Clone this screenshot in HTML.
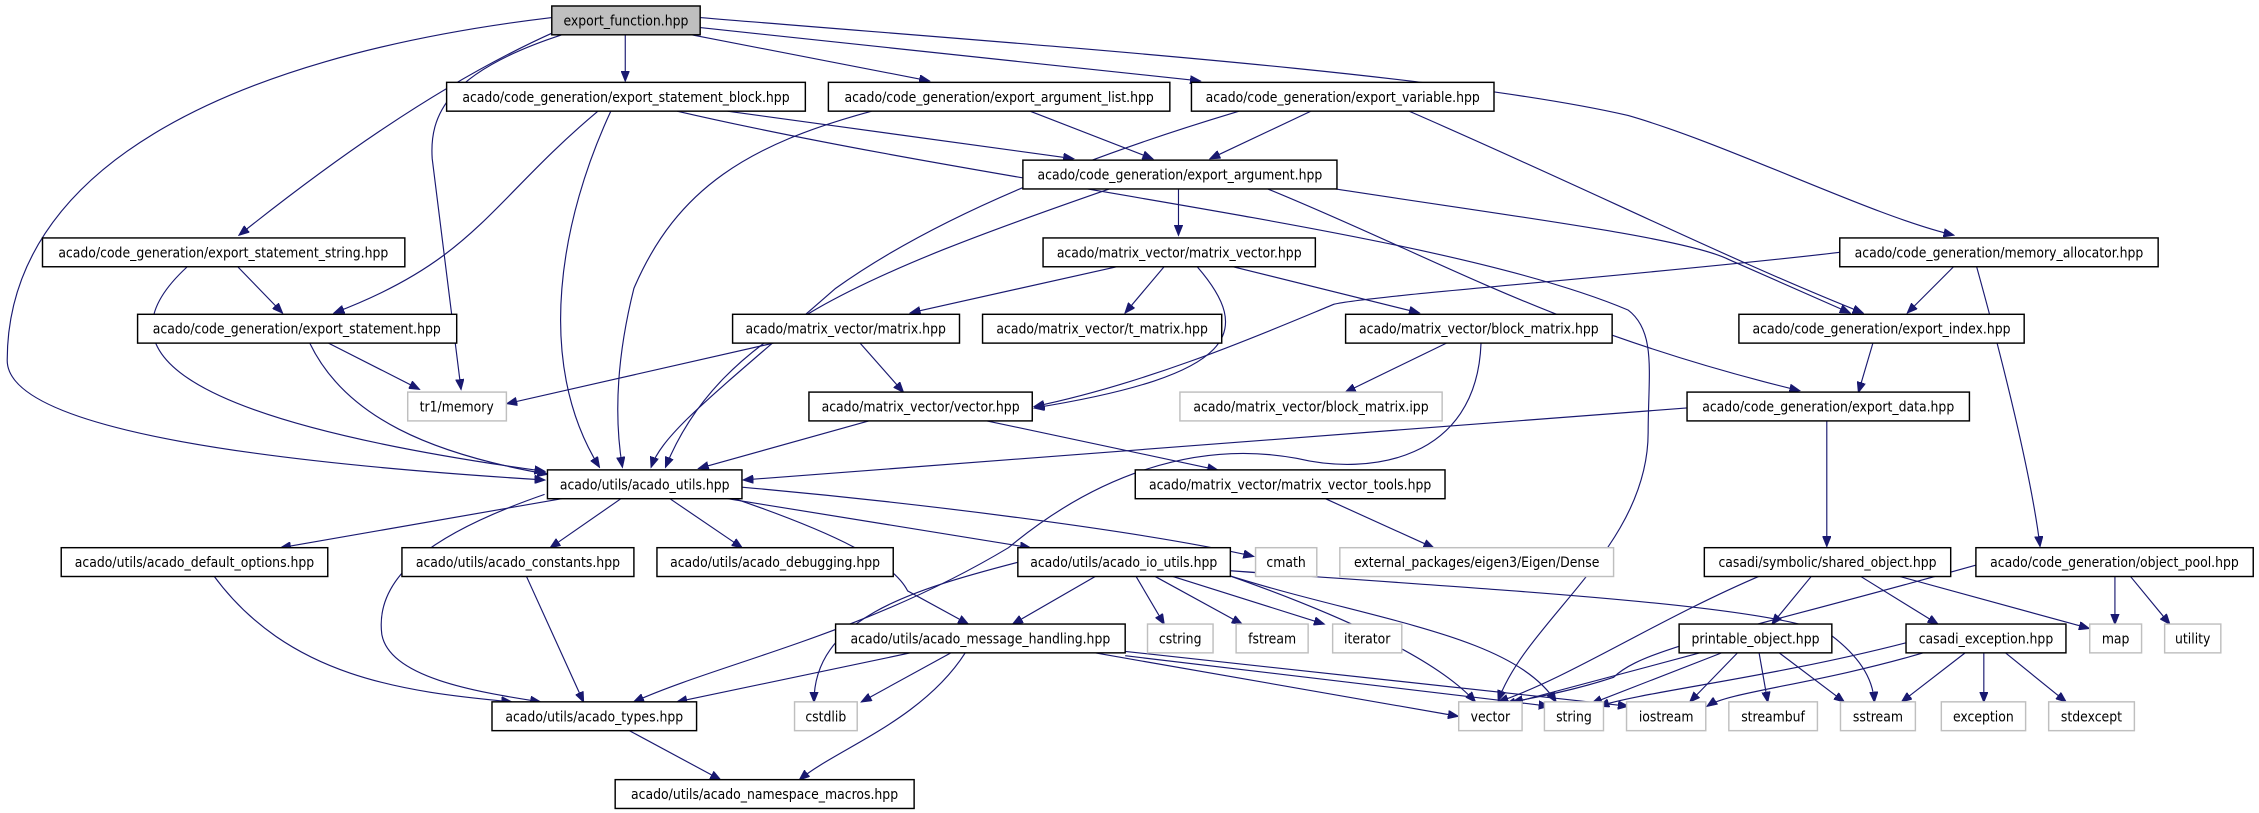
<!DOCTYPE html>
<html><head><meta charset="utf-8"><style>
html,body{margin:0;padding:0;background:#fff;}
svg{display:block}
text{font-family:"DejaVu Sans Condensed","Liberation Sans",sans-serif;font-size:9.6px;fill:#000;text-anchor:middle}
.b{fill:#fff;stroke:#000;stroke-width:1}
.g{fill:#fff;stroke:#bfbfbf;stroke-width:1}
.e{fill:none;stroke:#191970;stroke-width:0.8;marker-end:url(#a)}
</style></head><body>
<svg width="2259" height="813" viewBox="0 0 1568 564" xmlns="http://www.w3.org/2000/svg">
<defs><marker id="a" markerUnits="userSpaceOnUse" markerWidth="8" markerHeight="6" refX="7" refY="3" orient="auto"><path d="M0,0 L7.5,3 L0,6 z" fill="#191970" stroke="#191970" stroke-width="0.5"/></marker></defs>
<rect width="1568" height="564" fill="#fff"/>
<g>
<path class="e" d="M383,12 C150,40 5,120 5,250 C5,300 200,322 378,333"/>
<path class="e" d="M385,22 C300,60 220,120 166,163"/>
<path class="e" d="M390,24 C310,50 298,80 300,110 L320,270"/>
<path class="e" d="M434,24 L434,56"/>
<path class="e" d="M480,24 L645,56"/>
<path class="e" d="M486,19 L833,56"/>
<path class="e" d="M486,12 C700,30 1000,50 1130,80 C1200,100 1300,150 1356,163"/>
<path class="e" d="M415,77 C340,140 330,180 232,217"/>
<path class="e" d="M424,77 C390,150 370,250 416,324"/>
<path class="e" d="M505,77 L745,110"/>
<path class="e" d="M470,77 C700,130 1000,160 1130,215 C1150,230 1144,260 1144,300 C1144,380 1060,430 1040,486"/>
<path class="e" d="M605,77 C520,100 470,130 440,200 C425,260 428,300 432,324"/>
<path class="e" d="M715,77 L800,110"/>
<path class="e" d="M860,77 C750,110 650,150 580,200 C500,270 460,300 452,324"/>
<path class="e" d="M910,77 L840,110"/>
<path class="e" d="M978,77 C1100,130 1200,180 1293,217"/>
<path class="e" d="M770,131 C600,190 500,230 462,324"/>
<path class="e" d="M818,131 L818,163"/>
<path class="e" d="M927,131 C1050,150 1170,165 1200,180 L1284,217"/>
<path class="e" d="M880,131 C1000,180 1080,230 1249,271"/>
<path class="e" d="M775,185 L632,217"/>
<path class="e" d="M808,185 L781,217"/>
<path class="e" d="M856,185 L985,217"/>
<path class="e" d="M831,185 C870,230 860,260 718,283"/>
<path class="e" d="M1277,175 C1150,190 950,205 926,211 C880,230 800,265 718,282"/>
<path class="e" d="M1356,185 L1324,217"/>
<path class="e" d="M1372,185 C1390,250 1410,330 1416,379"/>
<path class="e" d="M165,185 L196,217"/>
<path class="e" d="M130,185 C70,240 110,290 378,327"/>
<path class="e" d="M228,238 L291,270"/>
<path class="e" d="M215,238 C240,290 300,315 380,329"/>
<path class="e" d="M537,238 L352,280"/>
<path class="e" d="M597,238 L627,272"/>
<path class="e" d="M1004,238 L934,272"/>
<path class="e" d="M1028,238 C1025,320 950,330 900,318 C830,305 760,330 700,380 C600,440 500,460 440,487"/>
<path class="e" d="M1300,238 L1290,272"/>
<path class="e" d="M1171,283 L516,333"/>
<path class="e" d="M1268,292 L1268,379"/>
<path class="e" d="M603,292 L485,325"/>
<path class="e" d="M685,292 L845,326"/>
<path class="e" d="M390,346 L195,380"/>
<path class="e" d="M378,343 C300,370 260,400 265,440 C270,470 330,480 375,487"/>
<path class="e" d="M431,346 L382,380"/>
<path class="e" d="M465,346 L515,380"/>
<path class="e" d="M505,346 L715,380"/>
<path class="e" d="M515,338 C650,350 800,370 870,386"/>
<path class="e" d="M510,346 C580,370 620,390 630,410 L672,433"/>
<path class="e" d="M148,399 C200,470 280,480 355,487"/>
<path class="e" d="M365,399 L405,487"/>
<path class="e" d="M920,346 L995,380"/>
<path class="e" d="M762,399 L703,433"/>
<path class="e" d="M707,390 C630,410 565,430 565,487"/>
<path class="e" d="M788,399 L808,433"/>
<path class="e" d="M800,399 L862,433"/>
<path class="e" d="M811,399 L919,433"/>
<path class="e" d="M852,399 C940,430 1000,460 1024,487"/>
<path class="e" d="M852,399 C950,430 1050,440 1080,487"/>
<path class="e" d="M854,396 C1050,410 1230,420 1270,440 C1290,455 1300,470 1301,487"/>
<path class="e" d="M632,453 L470,487"/>
<path class="e" d="M660,453 L598,487"/>
<path class="e" d="M670,453 C640,500 580,520 555,541"/>
<path class="e" d="M760,453 L1012,497"/>
<path class="e" d="M781,455 L1075,490"/>
<path class="e" d="M781,452 L1130,490"/>
<path class="e" d="M435,506 L500,541"/>
<path class="e" d="M1223,399 C1150,430 1090,470 1040,487"/>
<path class="e" d="M1258,399 L1230,433"/>
<path class="e" d="M1290,399 L1345,433"/>
<path class="e" d="M1315,399 L1450,436"/>
<path class="e" d="M1372,392 C1200,440 1140,450 1120,470 C1090,480 1060,485 1050,487"/>
<path class="e" d="M1468,399 L1468,433"/>
<path class="e" d="M1478,399 L1506,433"/>
<path class="e" d="M1180,453 L1045,489"/>
<path class="e" d="M1195,453 L1105,488"/>
<path class="e" d="M1206,453 L1173,487"/>
<path class="e" d="M1221,453 L1227,487"/>
<path class="e" d="M1235,453 L1280,487"/>
<path class="e" d="M1323,446 C1230,470 1140,480 1110,490"/>
<path class="e" d="M1335,453 C1260,475 1200,480 1185,490"/>
<path class="e" d="M1364,453 L1320,487"/>
<path class="e" d="M1377,453 L1377,487"/>
<path class="e" d="M1392,453 L1434,487"/>
</g>
<g>
<rect x="383" y="4" width="103" height="20" fill="#bfbfbf" stroke="#000"/><text x="434.5" y="17.5">export_function.hpp</text>
<rect class="b" x="310" y="57" width="249" height="20"/><text x="434.5" y="70.5">acado/code_generation/export_statement_block.hpp</text>
<rect class="b" x="575" y="57" width="237" height="20"/><text x="693.5" y="70.5">acado/code_generation/export_argument_list.hpp</text>
<rect class="b" x="827" y="57" width="210" height="20"/><text x="932" y="70.5">acado/code_generation/export_variable.hpp</text>
<rect class="b" x="710" y="111" width="218" height="20"/><text x="819" y="124.5">acado/code_generation/export_argument.hpp</text>
<rect class="b" x="29.5" y="165" width="251.5" height="20"/><text x="155" y="178.5">acado/code_generation/export_statement_string.hpp</text>
<rect class="b" x="724" y="165" width="189" height="20"/><text x="818.5" y="178.5">acado/matrix_vector/matrix_vector.hpp</text>
<rect class="b" x="1277" y="165" width="221" height="20"/><text x="1387.5" y="178.5">acado/code_generation/memory_allocator.hpp</text>
<rect class="b" x="95.5" y="218" width="221.5" height="20"/><text x="206" y="231.5">acado/code_generation/export_statement.hpp</text>
<rect class="b" x="508.5" y="218" width="157.5" height="20"/><text x="587" y="231.5">acado/matrix_vector/matrix.hpp</text>
<rect class="b" x="682" y="218" width="166" height="20"/><text x="765" y="231.5">acado/matrix_vector/t_matrix.hpp</text>
<rect class="b" x="934" y="218" width="185" height="20"/><text x="1026.5" y="231.5">acado/matrix_vector/block_matrix.hpp</text>
<rect class="b" x="1207" y="218" width="198" height="20"/><text x="1306" y="231.5">acado/code_generation/export_index.hpp</text>
<rect class="g" x="283" y="272" width="68.5" height="20"/><text x="317" y="285.5">tr1/memory</text>
<rect class="b" x="561.5" y="272" width="155" height="20"/><text x="639" y="285.5">acado/matrix_vector/vector.hpp</text>
<rect class="g" x="819" y="272" width="182" height="20"/><text x="910" y="285.5">acado/matrix_vector/block_matrix.ipp</text>
<rect class="b" x="1171" y="272" width="196" height="20"/><text x="1269" y="285.5">acado/code_generation/export_data.hpp</text>
<rect class="b" x="380" y="326" width="135" height="20"/><text x="447.5" y="339.5">acado/utils/acado_utils.hpp</text>
<rect class="b" x="788" y="326" width="215" height="20"/><text x="895.5" y="339.5">acado/matrix_vector/matrix_vector_tools.hpp</text>
<rect class="b" x="42.5" y="380" width="185" height="20"/><text x="135" y="393.5">acado/utils/acado_default_options.hpp</text>
<rect class="b" x="279" y="380" width="161" height="20"/><text x="359.5" y="393.5">acado/utils/acado_constants.hpp</text>
<rect class="b" x="456" y="380" width="164" height="20"/><text x="538" y="393.5">acado/utils/acado_debugging.hpp</text>
<rect class="b" x="706.5" y="380" width="147.5" height="20"/><text x="780" y="393.5">acado/utils/acado_io_utils.hpp</text>
<rect class="g" x="871.5" y="380" width="42.5" height="20"/><text x="892.7" y="393.5">cmath</text>
<rect class="g" x="930" y="380" width="190" height="20"/><text x="1025" y="393.5">external_packages/eigen3/Eigen/Dense</text>
<rect class="b" x="1183" y="380" width="171" height="20"/><text x="1268.5" y="393.5">casadi/symbolic/shared_object.hpp</text>
<rect class="b" x="1371.5" y="380" width="192.5" height="20"/><text x="1467.7" y="393.5">acado/code_generation/object_pool.hpp</text>
<rect class="b" x="580" y="433" width="201" height="20"/><text x="680.5" y="446.5">acado/utils/acado_message_handling.hpp</text>
<rect class="g" x="796.5" y="433" width="45.5" height="20"/><text x="819.2" y="446.5">cstring</text>
<rect class="g" x="858" y="433" width="50" height="20"/><text x="883" y="446.5">fstream</text>
<rect class="g" x="925" y="433" width="48" height="20"/><text x="949" y="446.5">iterator</text>
<rect class="b" x="1165.5" y="433" width="106" height="20"/><text x="1218.5" y="446.5">printable_object.hpp</text>
<rect class="b" x="1323" y="433" width="111" height="20"/><text x="1378.5" y="446.5">casadi_exception.hpp</text>
<rect class="g" x="1450.5" y="433" width="36" height="20"/><text x="1468.5" y="446.5">map</text>
<rect class="g" x="1502.5" y="433" width="39" height="20"/><text x="1522" y="446.5">utility</text>
<rect class="b" x="341.5" y="487" width="142" height="20"/><text x="412.5" y="500.5">acado/utils/acado_types.hpp</text>
<rect class="g" x="551.5" y="487" width="43.5" height="20"/><text x="573.2" y="500.5">cstdlib</text>
<rect class="g" x="1012.5" y="487" width="44" height="20"/><text x="1034.5" y="500.5">vector</text>
<rect class="g" x="1072" y="487" width="41" height="20"/><text x="1092.5" y="500.5">string</text>
<rect class="g" x="1129" y="487" width="55" height="20"/><text x="1156.5" y="500.5">iostream</text>
<rect class="g" x="1200" y="487" width="61.5" height="20"/><text x="1230.7" y="500.5">streambuf</text>
<rect class="g" x="1277.5" y="487" width="52" height="20"/><text x="1303.5" y="500.5">sstream</text>
<rect class="g" x="1347.5" y="487" width="58.5" height="20"/><text x="1376.7" y="500.5">exception</text>
<rect class="g" x="1422" y="487" width="59.5" height="20"/><text x="1451.7" y="500.5">stdexcept</text>
<rect class="b" x="427" y="541" width="207.5" height="20"/><text x="530.7" y="554.5">acado/utils/acado_namespace_macros.hpp</text>
</g>
</svg>
</body></html>
